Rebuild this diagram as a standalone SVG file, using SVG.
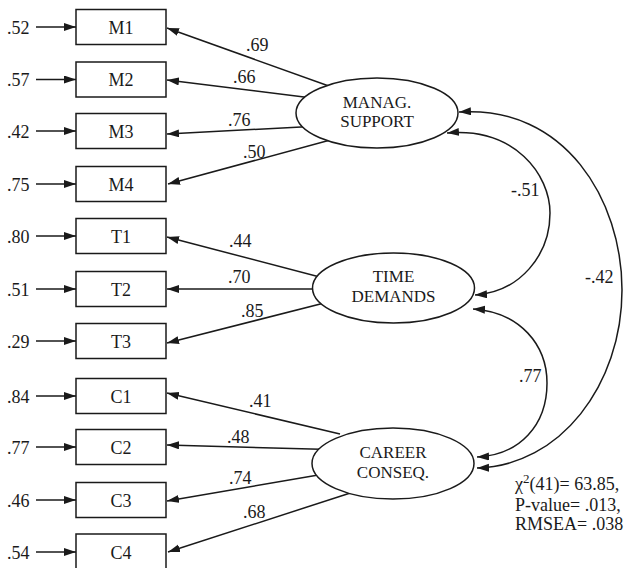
<svg xmlns="http://www.w3.org/2000/svg" width="630" height="568" viewBox="0 0 630 568" font-family="'Liberation Serif', 'Times New Roman', serif" font-size="18">
<defs>
<marker id="ah" markerUnits="userSpaceOnUse" markerWidth="13" markerHeight="9" refX="12" refY="4" orient="auto-start-reverse">
<path d="M0,0 L12,4 L0,8 z" fill="#1a1a1a"/>
</marker>
<style>
text{fill:#1a1a1a}
.c{text-anchor:middle}
.et{text-anchor:middle;font-size:17px}
.box{fill:#fff;stroke:#1a1a1a;stroke-width:1.5}
.ell{fill:#fff;stroke:#1a1a1a;stroke-width:1.5}
.ln{fill:none;stroke:#1a1a1a;stroke-width:1.5;marker-end:url(#ah)}
.dbl{fill:none;stroke:#1a1a1a;stroke-width:1.5;marker-end:url(#ah);marker-start:url(#ah)}
</style>
</defs>
<rect width="630" height="568" fill="#fff"/>
<g id="connectors">
<line class="ln" x1="36" y1="27" x2="76" y2="27"/>
<line class="ln" x1="36" y1="79.5" x2="76" y2="79.5"/>
<line class="ln" x1="36" y1="131" x2="76" y2="131"/>
<line class="ln" x1="36" y1="184" x2="76" y2="184"/>
<line class="ln" x1="36" y1="236" x2="76" y2="236"/>
<line class="ln" x1="36" y1="289" x2="76" y2="289"/>
<line class="ln" x1="36" y1="341" x2="76" y2="341"/>
<line class="ln" x1="36" y1="396" x2="76" y2="396"/>
<line class="ln" x1="36" y1="447" x2="76" y2="447"/>
<line class="ln" x1="36" y1="500" x2="76" y2="500"/>
<line class="ln" x1="36" y1="552" x2="76" y2="552"/>
<line class="ln" x1="340" y1="90" x2="167" y2="28"/>
<line class="ln" x1="320" y1="99" x2="167" y2="80"/>
<line class="ln" x1="320" y1="126" x2="167" y2="134"/>
<line class="ln" x1="345" y1="136" x2="168" y2="184"/>
<line class="ln" x1="335" y1="281" x2="167" y2="237"/>
<line class="ln" x1="330" y1="289" x2="167" y2="289"/>
<line class="ln" x1="340" y1="299" x2="167" y2="343"/>
<line class="ln" x1="340" y1="434" x2="167" y2="393"/>
<line class="ln" x1="330" y1="449.5" x2="167" y2="445"/>
<line class="ln" x1="330" y1="473" x2="167" y2="501"/>
<line class="ln" x1="355" y1="491.5" x2="168" y2="552"/>
<path class="dbl" d="M447,133 C515,127 550,175 550,213 C550,255 520,292 475,295"/>
<path class="dbl" d="M459,112 C565,105 622,200 622,290 C622,385 560,466 477,468"/>
<path class="dbl" d="M473,309 C520,312 547,345 547,383 C547,425 520,455 477,457"/>
</g>
<g id="errors">
<text x="7" y="33.5">.52</text>
<text x="7" y="86">.57</text>
<text x="7" y="137.5">.42</text>
<text x="7" y="190.5">.75</text>
<text x="7" y="242.5">.80</text>
<text x="7" y="295.5">.51</text>
<text x="7" y="347.5">.29</text>
<text x="7" y="402.5">.84</text>
<text x="7" y="453.5">.77</text>
<text x="7" y="506.5">.46</text>
<text x="7" y="558.5">.54</text>
</g>
<g id="M1"><rect class="box" x="76" y="9.5" width="90" height="35"/><text class="c" x="121" y="33.5">M1</text></g>
<g id="M2"><rect class="box" x="76" y="62" width="90" height="35"/><text class="c" x="121" y="86">M2</text></g>
<g id="M3"><rect class="box" x="76" y="113.5" width="90" height="35"/><text class="c" x="121" y="137.5">M3</text></g>
<g id="M4"><rect class="box" x="76" y="166.5" width="90" height="35"/><text class="c" x="121" y="190.5">M4</text></g>
<g id="T1"><rect class="box" x="76" y="218.5" width="90" height="35"/><text class="c" x="121" y="242.5">T1</text></g>
<g id="T2"><rect class="box" x="76" y="271.5" width="90" height="35"/><text class="c" x="121" y="295.5">T2</text></g>
<g id="T3"><rect class="box" x="76" y="323.5" width="90" height="35"/><text class="c" x="121" y="347.5">T3</text></g>
<g id="C1"><rect class="box" x="76" y="378.5" width="90" height="35"/><text class="c" x="121" y="402.5">C1</text></g>
<g id="C2"><rect class="box" x="76" y="429.5" width="90" height="35"/><text class="c" x="121" y="453.5">C2</text></g>
<g id="C3"><rect class="box" x="76" y="482.5" width="90" height="35"/><text class="c" x="121" y="506.5">C3</text></g>
<g id="C4"><rect class="box" x="76" y="534" width="90" height="35"/><text class="c" x="121" y="558.5">C4</text></g>
<g id="MANAG"><ellipse class="ell" cx="377" cy="113" rx="81" ry="35"/><text class="et" x="377" y="107.5">MANAG.</text><text class="et" x="377" y="127">SUPPORT</text></g>
<g id="TIME"><ellipse class="ell" cx="393.5" cy="288" rx="81" ry="35"/><text class="et" x="393.5" y="282">TIME</text><text class="et" x="393.5" y="301.5">DEMANDS</text></g>
<g id="CAREER"><ellipse class="ell" cx="393" cy="463.5" rx="81" ry="35.5"/><text class="et" x="393" y="458">CAREER</text><text class="et" x="393" y="477.5">CONSEQ.</text></g>
<g id="labels">
<text x="246" y="51">.69</text>
<text x="233" y="83">.66</text>
<text x="228" y="126">.76</text>
<text x="243" y="158">.50</text>
<text x="229" y="247">.44</text>
<text x="228" y="283">.70</text>
<text x="241" y="317">.85</text>
<text x="249" y="407">.41</text>
<text x="227" y="443">.48</text>
<text x="229" y="484">.74</text>
<text x="243" y="518">.68</text>
<text x="511" y="196">-.51</text>
<text x="585" y="283">-.42</text>
<text x="519" y="382">.77</text>
</g>
<g id="fit">
<text x="515" y="490">χ<tspan dy="-7" font-size="13">2</tspan><tspan dy="7">(41)= 63.85,</tspan></text>
<text x="515" y="510.5">P-value= .013,</text>
<text x="515" y="530">RMSEA= .038</text>
</g>
</svg>
